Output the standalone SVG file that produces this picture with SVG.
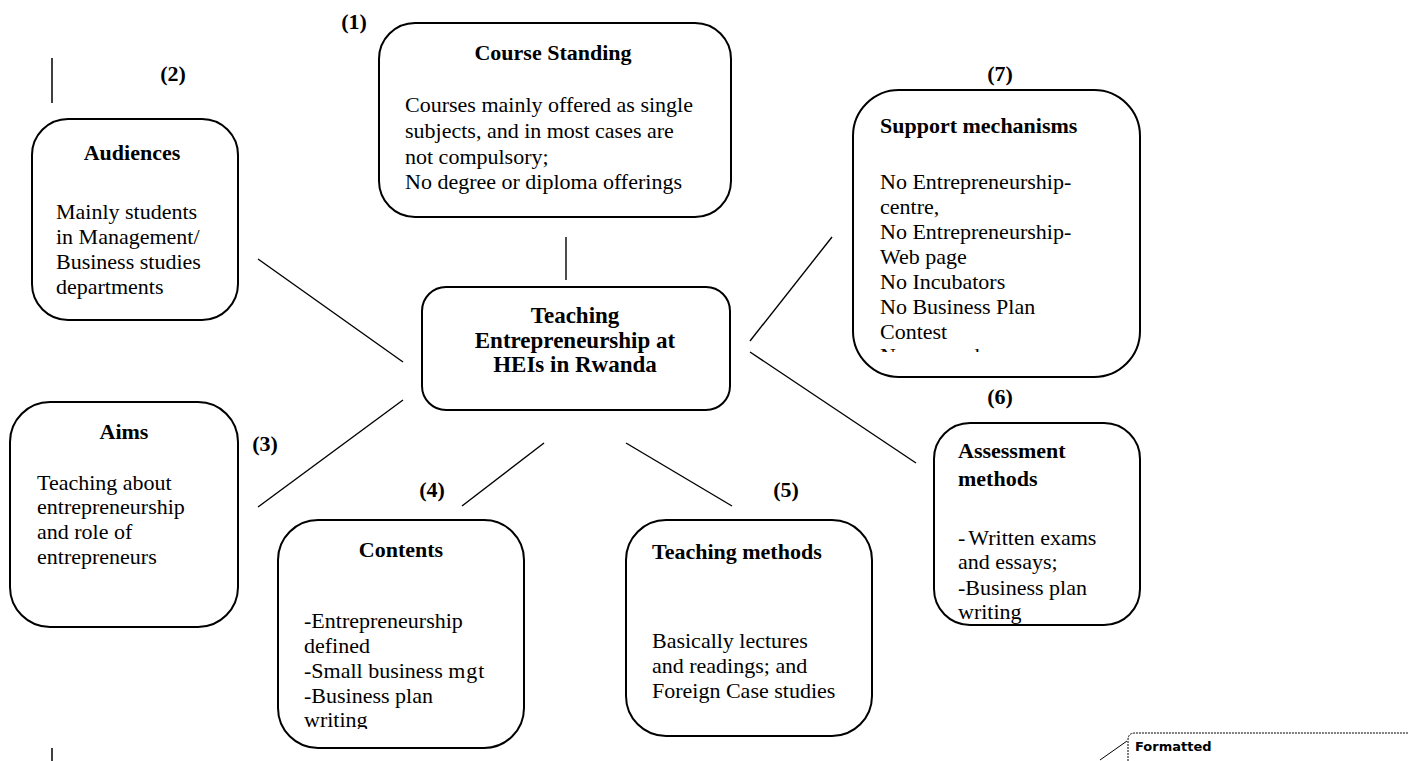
<svg xmlns="http://www.w3.org/2000/svg" width="1408" height="761" viewBox="0 0 1408 761">
<style>
.box{fill:#fff;stroke:#000;stroke-width:2}
.t{font-family:"Liberation Serif","Times New Roman",serif;font-size:22px;font-weight:bold;fill:#000}
.b{font-family:"Liberation Serif","Times New Roman",serif;font-size:22px;fill:#000}
.n{font-family:"Liberation Serif","Times New Roman",serif;font-size:22px;font-weight:bold;fill:#000;text-anchor:middle}
.c{stroke:#000;stroke-width:1.4;fill:none}
</style>
<defs>
<clipPath id="clipSupport"><rect x="853" y="90" width="287" height="262"/></clipPath>
<clipPath id="clipContents"><rect x="278" y="520" width="246" height="209"/></clipPath>
</defs>
<rect width="1408" height="761" fill="#fff"/>
<g id="connectors">
<line class="c" x1="566" y1="237" x2="566" y2="280"/>
<line class="c" x1="258" y1="259" x2="403" y2="362"/>
<line class="c" x1="258" y1="507" x2="403" y2="400"/>
<line class="c" x1="462" y1="506" x2="544" y2="443"/>
<line class="c" x1="626" y1="443" x2="732" y2="506"/>
<line class="c" x1="750" y1="352" x2="916" y2="463"/>
<line class="c" x1="750" y1="341" x2="832" y2="237"/>
</g>
<g id="marks">
<line x1="52" y1="58" x2="52" y2="103" stroke="#000" stroke-width="1.5"/>
<line x1="52" y1="748" x2="52" y2="761" stroke="#000" stroke-width="1.5"/>
</g>
<g id="labels">
<text class="n" x="354" y="29">(1)</text>
<text class="n" x="173" y="81">(2)</text>
<text class="n" x="265" y="451">(3)</text>
<text class="n" x="432" y="497">(4)</text>
<text class="n" x="786" y="497">(5)</text>
<text class="n" x="1000" y="404">(6)</text>
<text class="n" x="1000" y="81">(7)</text>
</g>
<g id="node-course-standing">
<rect class="box" x="379" y="23" width="352" height="194" rx="36"/>
<text class="t" x="553" y="60" text-anchor="middle">Course Standing</text>
<text class="b" x="405" y="112">Courses mainly offered as single</text>
<text class="b" x="405" y="138">subjects, and in most cases are</text>
<text class="b" x="405" y="164">not compulsory;</text>
<text class="b" x="405" y="189">No degree or diploma offerings</text>
</g>
<g id="node-audiences">
<rect class="box" x="32" y="119" width="206" height="201" rx="36"/>
<text class="t" x="132" y="160" text-anchor="middle">Audiences</text>
<text class="b" x="56" y="219">Mainly students</text>
<text class="b" x="56" y="244">in Management/</text>
<text class="b" x="56" y="269">Business studies</text>
<text class="b" x="56" y="294">departments</text>
</g>
<g id="node-center">
<rect class="box" x="422" y="287" width="308" height="123" rx="24"/>
<text class="t" x="575" y="323" text-anchor="middle" style="font-size:23px">Teaching</text>
<text class="t" x="575" y="348" text-anchor="middle" style="font-size:23px">Entrepreneurship at</text>
<text class="t" x="575" y="372" text-anchor="middle" style="font-size:23px">HEIs in Rwanda</text>
</g>
<g id="node-support">
<rect class="box" x="853" y="90" width="287" height="287" rx="46"/>
<text class="t" x="880" y="133">Support mechanisms</text>
<g clip-path="url(#clipSupport)">
<text class="b" x="880" y="189">No Entrepreneurship-</text>
<text class="b" x="880" y="214">centre,</text>
<text class="b" x="880" y="239">No Entrepreneurship-</text>
<text class="b" x="880" y="264">Web page</text>
<text class="b" x="880" y="289">No Incubators</text>
<text class="b" x="880" y="314">No Business Plan</text>
<text class="b" x="880" y="339">Contest</text>
<text class="b" x="880" y="363">No research</text>
</g>
</g>
<g id="node-assessment">
<rect class="box" x="934" y="423" width="206" height="202" rx="36"/>
<text class="t" x="958" y="458">Assessment</text>
<text class="t" x="958" y="486">methods</text>
<text class="b" x="958" y="545">-<tspan dx="3">Written exams</tspan></text>
<text class="b" x="958" y="569">and essays;</text>
<text class="b" x="958" y="595">-Business plan</text>
<text class="b" x="958" y="619">writing</text>
</g>
<g id="node-aims">
<rect class="box" x="10" y="402" width="228" height="225" rx="40"/>
<text class="t" x="124" y="439" text-anchor="middle">Aims</text>
<text class="b" x="37" y="490">Teaching about</text>
<text class="b" x="37" y="514">entrepreneurship</text>
<text class="b" x="37" y="539">and role of</text>
<text class="b" x="37" y="564">entrepreneurs</text>
</g>
<g id="node-contents">
<rect class="box" x="278" y="520" width="246" height="228" rx="40"/>
<text class="t" x="401" y="557" text-anchor="middle">Contents</text>
<g clip-path="url(#clipContents)">
<text class="b" x="304" y="628">-Entrepreneurship</text>
<text class="b" x="304" y="653">defined</text>
<text class="b" x="304" y="678">-Small business m<tspan dx="1">g</tspan><tspan dx="1">t</tspan></text>
<text class="b" x="304" y="703">-Business plan</text>
<text class="b" x="304" y="727">writing</text>
</g>
</g>
<g id="node-teaching-methods">
<rect class="box" x="626" y="520" width="246" height="216" rx="40"/>
<text class="t" x="652" y="559">Teaching methods</text>
<text class="b" x="652" y="648">Basically lectures</text>
<text class="b" x="652" y="673">and readings; and</text>
<text class="b" x="652" y="698">Foreign Case studies</text>
</g>
<g id="formatted-note">
<path d="M1128,761 V740 Q1128,733 1135,733 H1408" fill="none" stroke="#000" stroke-width="1" stroke-dasharray="2,1"/>
<line x1="1100" y1="760" x2="1127" y2="741" stroke="#000" stroke-width="1"/>
<text x="1135" y="751" style="font-family:'DejaVu Sans',sans-serif;font-size:13px;font-weight:bold;fill:#000">Formatted</text>
</g>
</svg>
